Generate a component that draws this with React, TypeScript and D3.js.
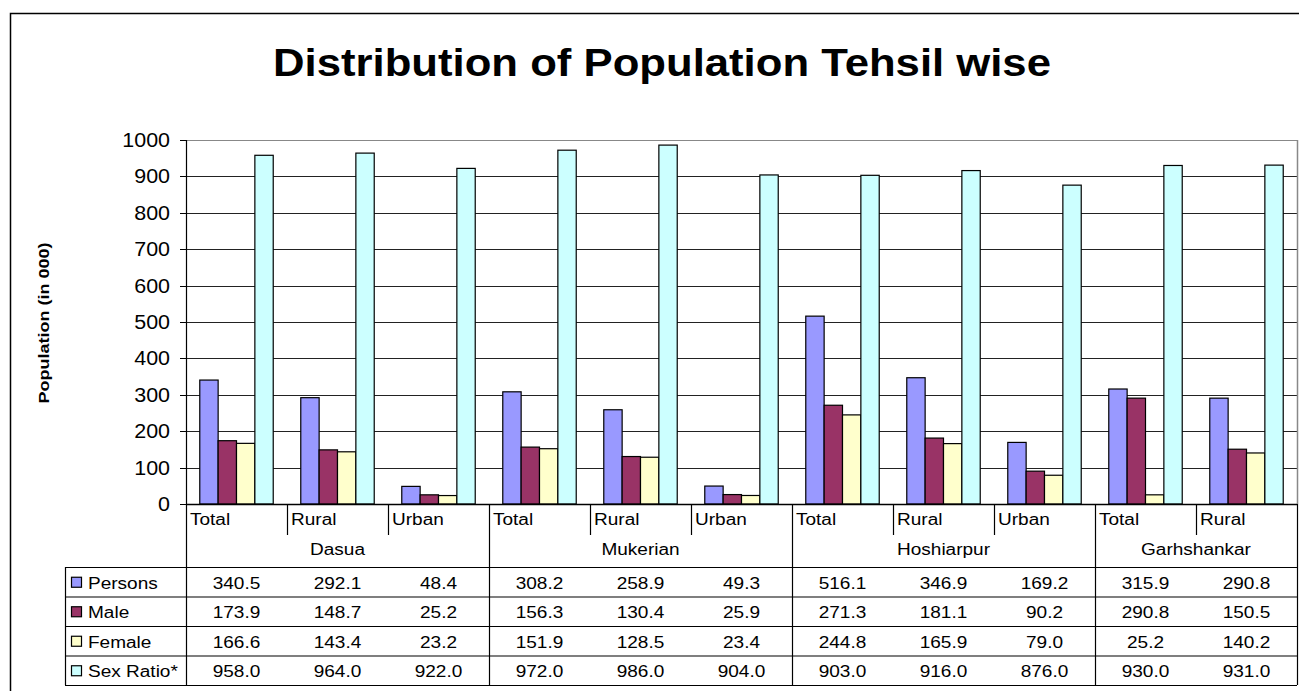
import React from "react";
import * as d3 from "d3";

const tehsils = ["Dasua", "Mukerian", "Hoshiarpur", "Garhshankar"];
const categories = [
  { tehsil: "Dasua", area: "Total" },
  { tehsil: "Dasua", area: "Rural" },
  { tehsil: "Dasua", area: "Urban" },
  { tehsil: "Mukerian", area: "Total" },
  { tehsil: "Mukerian", area: "Rural" },
  { tehsil: "Mukerian", area: "Urban" },
  { tehsil: "Hoshiarpur", area: "Total" },
  { tehsil: "Hoshiarpur", area: "Rural" },
  { tehsil: "Hoshiarpur", area: "Urban" },
  { tehsil: "Garhshankar", area: "Total" },
  { tehsil: "Garhshankar", area: "Rural" },
];
const seriesNames = ["Persons", "Male", "Female", "Sex Ratio*"];
const seriesColors = ["#9999FF", "#993366", "#FFFFCC", "#CCFFFF"];
const persons = [340.5, 292.1, 48.4, 308.2, 258.9, 49.3, 516.1, 346.9, 169.2, 315.9, 290.8];
const male = [173.9, 148.7, 25.2, 156.3, 130.4, 25.9, 271.3, 181.1, 90.2, 290.8, 150.5];
const female = [166.6, 143.4, 23.2, 151.9, 128.5, 23.4, 244.8, 165.9, 79.0, 25.2, 140.2];
const sexRatio = [958.0, 964.0, 922.0, 972.0, 986.0, 904.0, 903.0, 916.0, 876.0, 930.0, 931.0];
const seriesValues = [persons, male, female, sexRatio];
const yTicks = [0, 100, 200, 300, 400, 500, 600, 700, 800, 900, 1000];

const FONT = "'Liberation Sans', Arial, sans-serif";

export default function App() {
  const W = 1299, H = 691;
  const plotLeft = 186, plotRight = 1297, plotTop = 140, plotBottom = 504;
  const y = d3.scaleLinear().domain([0, 1000]).range([plotBottom, plotTop]);
  const x = d3.scaleBand<number>().domain(d3.range(categories.length)).range([plotLeft, plotRight]).padding(0);
  const xs = d3.scaleBand<number>().domain(d3.range(seriesNames.length)).range([0, x.bandwidth()]).paddingInner(0).paddingOuter(0.75);
  const rows = d3.scaleBand<number>().domain(d3.range(seriesNames.length)).range([567, 685]);
  const legendLeft = 65;
  const sx = 1.1;
  const fs = 17.3;

  const groups = tehsils.map((t) => {
    const idx = categories.map((c, i) => (c.tehsil === t ? i : -1)).filter((i) => i >= 0);
    const x0 = x(idx[0])!;
    const x1 = x(idx[idx.length - 1])! + x.bandwidth();
    return { t, x0, x1 };
  });

  const fmt = d3.format(".1f");

  return (
    <svg width={W} height={H} style={{ position: "absolute", left: 0, top: 0, background: "#fff" }} fontFamily={FONT}>
      <rect x={0} y={0} width={W} height={H} fill="#fff" />
      <path d={`M10.5,${H + 5} V13.5 H${W + 5}`} fill="none" stroke="#000" strokeWidth={1.5} />
      <text transform={`translate(662,76) scale(1.12,1)`} textAnchor="middle" fontSize={39} fontWeight="bold" fill="#000">
        Distribution of Population Tehsil wise
      </text>
      <text transform={`translate(49,323) rotate(-90) scale(1.2,1)`} textAnchor="middle" fontSize={15} fontWeight="bold" fill="#000">
        Population (in 000)
      </text>
      {yTicks.map((t) => (
        <line key={"g" + t} x1={plotLeft} x2={plotRight} y1={Math.round(y(t)) + 0.5} y2={Math.round(y(t)) + 0.5}
          stroke={t === 1000 ? "#888" : "#222"} strokeWidth={1} />
      ))}
      <line x1={plotRight + 0.5} x2={plotRight + 0.5} y1={plotTop} y2={plotBottom} stroke="#888" strokeWidth={1.5} />
      {yTicks.map((t) => (
        <g key={"t" + t}>
          <line x1={plotLeft - 6} x2={plotLeft} y1={Math.round(y(t)) + 0.5} y2={Math.round(y(t)) + 0.5} stroke="#000" />
          <text transform={`translate(170,${y(t) + 7}) scale(${sx},1)`} textAnchor="end" fontSize={19.5} fill="#000">
            {t}
          </text>
        </g>
      ))}
      {seriesValues.map((vals, si) =>
        vals.map((v, ci) => (
          <rect key={`b${si}-${ci}`} x={x(ci)! + xs(si)!} y={y(v)} width={xs.bandwidth()} height={plotBottom - y(v)}
            fill={seriesColors[si]} stroke="#000" strokeWidth={1.2} />
        ))
      )}
      <line x1={plotLeft + 0.5} x2={plotLeft + 0.5} y1={plotTop} y2={685} stroke="#000" strokeWidth={1.2} />
      <line x1={plotLeft} x2={plotRight} y1={plotBottom + 0.5} y2={plotBottom + 0.5} stroke="#000" strokeWidth={1.5} />
      {categories.map((c, i) => {
        const x0 = x(i)!;
        const isGroupEnd = i === categories.length - 1 || categories[i + 1].tehsil !== c.tehsil;
        return (
          <g key={"c" + i}>
            <text transform={`translate(${x0 + 4},525) scale(${sx},1)`} fontSize={fs} fill="#000">
              {c.area}
            </text>
            <line x1={x0 + x.bandwidth() + 0.5} x2={x0 + x.bandwidth() + 0.5} y1={plotBottom} y2={isGroupEnd ? 685 : 535}
              stroke="#000" strokeWidth={1.2} />
          </g>
        );
      })}
      {groups.map((g) => (
        <text key={g.t} transform={`translate(${(g.x0 + g.x1) / 2},555) scale(${sx},1)`} textAnchor="middle" fontSize={fs} fill="#000">
          {g.t}
        </text>
      ))}
      <line x1={legendLeft} x2={plotRight} y1={rows(0)! + 0.5} y2={rows(0)! + 0.5} stroke="#000" strokeWidth={1.2} />
      <line x1={legendLeft + 0.5} x2={legendLeft + 0.5} y1={rows(0)!} y2={685} stroke="#000" strokeWidth={1.2} />
      {seriesNames.map((name, si) => {
        const top = rows(si)!;
        const bottom = top + rows.bandwidth();
        const mid = top + rows.bandwidth() / 2;
        return (
          <g key={"r" + si}>
            <line x1={legendLeft} x2={plotRight} y1={bottom + 0.5} y2={bottom + 0.5} stroke="#000" strokeWidth={1.2} />
            <rect x={71.5} y={mid - 4.5} width={10} height={10} fill={seriesColors[si]} stroke="#000" strokeWidth={1.2} />
            <text transform={`translate(88,${mid + 7}) scale(${sx},1)`} fontSize={fs} fill="#000">
              {name}
            </text>
            {seriesValues[si].map((v, ci) => (
              <text key={ci} transform={`translate(${x(ci)! + x.bandwidth() / 2},${mid + 7}) scale(${sx},1)`}
                textAnchor="middle" fontSize={fs} fill="#000">
                {fmt(v)}
              </text>
            ))}
          </g>
        );
      })}
    </svg>
  );
}
